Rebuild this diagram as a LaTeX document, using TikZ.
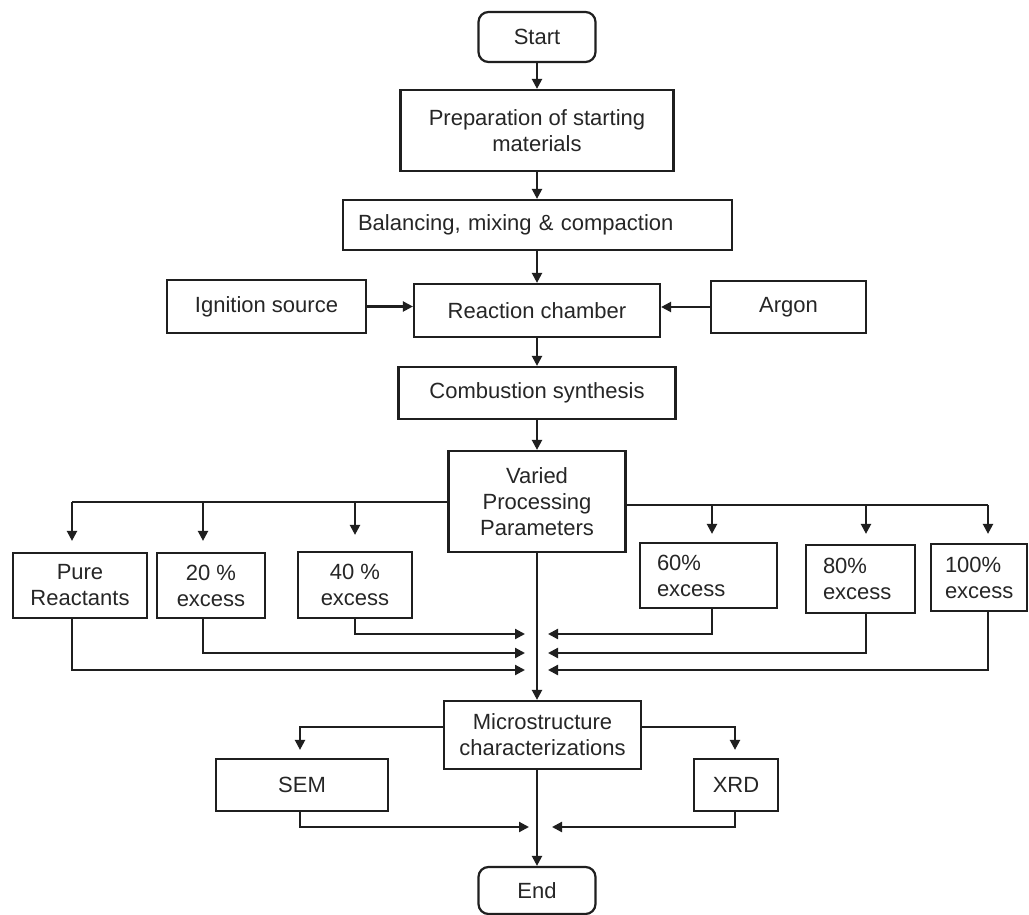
\documentclass[tikz,border=0pt]{standalone}
\usepackage{fontspec}
\setmainfont{Liberation Sans}
\usetikzlibrary{arrows.meta}
\begin{document}
\begin{tikzpicture}[x=1pt,y=-1pt,
  every node/.style={font=\fontsize{22}{26}\selectfont, text=black!85},
  box/.style={draw=black!88, line width=2.2pt, rectangle, inner sep=0pt, align=center},
  rbox/.style={box, rounded corners=10pt},
  lbox/.style={box, align=left},
  arr/.style={draw=black!88, line width=2.2pt, -{Triangle[length=10pt,width=10pt]}},
  ln/.style={draw=black!88, line width=2.2pt}]
\useasboundingbox[fill=white] (0,0) rectangle (1029,915);

% main column
\node[rbox, minimum width=117, minimum height=50] (start) at (537,37) {Start};
\node[box, minimum width=273, minimum height=81] (prep) at (537,130.5) {Preparation of starting\\materials};
\node[lbox, minimum width=389, minimum height=50, text width=359] (bal) at (537.5,225) {Balancing, mixing \& compaction};
\node[box, minimum width=199, minimum height=53] (ign) at (266.5,306.5) {Ignition source};
\node[box, minimum width=246, minimum height=53] (reac) at (537,310.5) {Reaction chamber};
\node[box, minimum width=155, minimum height=52] (argon) at (788.5,307) {Argon};
\node[box, minimum width=277, minimum height=52] (comb) at (537,393) {Combustion synthesis};
\node[box, minimum width=177, minimum height=101] (var) at (537,501.5) {Varied\\Processing\\Parameters};

% parameter boxes
\node[box, minimum width=134, minimum height=65] (pure) at (80,585.5) {Pure\\Reactants};
\node[box, minimum width=108, minimum height=65] (p20) at (211,585.5) {20 \%\\excess};
\node[box, minimum width=114, minimum height=66] (p40) at (355,585) {40 \%\\excess};
\node[lbox, minimum width=137, minimum height=65, text width=103] (p60) at (708.5,575.5) {60\%\\excess};
\node[lbox, minimum width=109, minimum height=68, text width=75] (p80) at (860.5,579) {80\%\\excess};
\node[lbox, minimum width=96, minimum height=67, text width=68] (p100) at (979,577.5) {100\%\\excess};

% characterization
\node[box, minimum width=197, minimum height=68] (micro) at (542.5,735) {Microstructure\\characterizations};
\node[box, minimum width=172, minimum height=52] (sem) at (302,785) {SEM};
\node[box, minimum width=84, minimum height=52] (xrd) at (736,785) {XRD};
\node[rbox, minimum width=117, minimum height=47] (end) at (537,890.5) {End};

% helper coordinates
\coordinate (dPure) at (72,0);
\coordinate (d20) at (203,0);
\coordinate (d40) at (355,0);
\coordinate (d60) at (712,0);
\coordinate (d80) at (866,0);
\coordinate (d100) at (988,0);
\coordinate (rowL) at (0,502);
\coordinate (rowR) at (0,505);
\coordinate (r1) at (0,634);
\coordinate (r2) at (0,653);
\coordinate (r3) at (0,670);
\coordinate (cl) at (525,0);
\coordinate (cr) at (548,0);
\coordinate (dSem) at (300,0);
\coordinate (dXrd) at (735,0);
\coordinate (mrow) at (0,727);
\coordinate (brow) at (0,827);
\coordinate (bl) at (529,0);
\coordinate (br) at (552,0);

% main column arrows
\draw[arr] (start.south) -- (prep.north);
\draw[arr] (prep.south) -- (prep.south |- bal.north);
\draw[arr] (prep.south |- bal.south) -- (reac.north);
\draw[arr] (ign.east) -- (ign.east -| reac.west);
\draw[arr] (argon.west) -- (argon.west -| reac.east);
\draw[arr] (reac.south) -- (comb.north);
\draw[arr] (comb.south) -- (var.north);

% branch to parameter boxes
\draw[ln] (var.west |- rowL) -- (dPure |- rowL);
\draw[arr, shorten >=11pt] (dPure |- rowL) -- (dPure |- pure.north);
\draw[arr, shorten >=11pt] (d20 |- rowL) -- (d20 |- p20.north);
\draw[arr, shorten >=16pt] (d40 |- rowL) -- (d40 |- p40.north);
\draw[ln] (var.east |- rowR) -- (d100 |- rowR);
\draw[arr, shorten >=8pt] (d60 |- rowR) -- (d60 |- p60.north);
\draw[arr, shorten >=10pt] (d80 |- rowR) -- (d80 |- p80.north);
\draw[arr, shorten >=9pt] (d100 |- rowR) -- (d100 |- p100.north);

% returns to collector
\draw[arr] (dPure |- pure.south) |- (cl |- r3);
\draw[arr] (d20 |- p20.south) |- (cl |- r2);
\draw[arr] (d40 |- p40.south) |- (cl |- r1);
\draw[arr] (d60 |- p60.south) |- (cr |- r1);
\draw[arr] (d80 |- p80.south) |- (cr |- r2);
\draw[arr] (d100 |- p100.south) |- (cr |- r3);

% central line
\draw[arr] (var.south) -- (var.south |- micro.north);

% characterization branches
\draw[arr, shorten >=8pt] (micro.west |- mrow) -| (dSem |- sem.north);
\draw[arr, shorten >=8pt] (micro.east |- mrow) -| (dXrd |- xrd.north);
\draw[arr] (dSem |- sem.south) |- (bl |- brow);
\draw[arr] (dXrd |- xrd.south) |- (br |- brow);
\draw[arr] (end.north |- micro.south) -- (end.north);
\end{tikzpicture}
\end{document}
